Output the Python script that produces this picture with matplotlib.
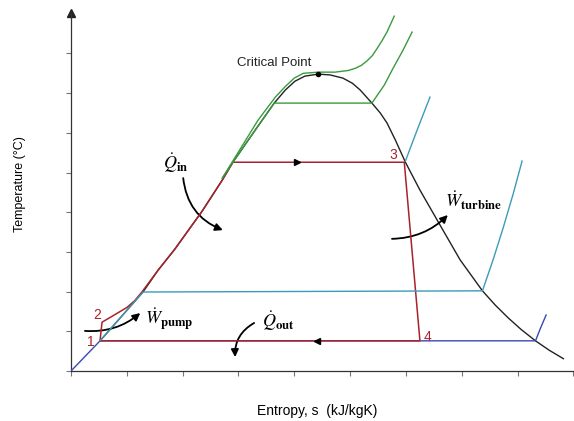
import matplotlib
matplotlib.use('Agg')
import matplotlib.pyplot as plt

plt.rcParams['font.family'] = ['Liberation Sans', 'DejaVu Sans']
plt.rcParams['mathtext.fontset'] = 'stix'

# saturation dome (entropy s, temperature T in tick units)
dome_s = [0.52, 1.29, 1.56, 1.86, 2.35, 2.71, 2.90, 3.30, 3.64, 3.84, 4.01, 4.19, 4.43,
          4.64, 4.87, 5.04, 5.18, 5.39, 5.54, 5.66, 5.81, 5.99, 6.25, 6.56, 6.97,
          7.37, 7.60, 7.83, 8.06, 8.32, 8.57, 8.82]
dome_T = [0.76, 1.99, 2.54, 3.07, 4.03, 4.81, 5.26, 6.07, 6.75, 7.08, 7.30, 7.43, 7.48,
          7.46, 7.38, 7.25, 7.08, 6.75, 6.50, 6.25, 5.82, 5.26, 4.56, 3.80, 2.80,
          2.02, 1.66, 1.34, 1.05, 0.76, 0.52, 0.31]
crit_s, crit_T = 4.43, 7.48

# Rankine cycle 1-2-3-4-1
cycle_s = [0.52, 0.556, 0.75, 1.00, 1.14, 1.27, 1.56, 1.86, 2.35, 2.71, 2.90, 5.97, 6.25, 0.52]
cycle_T = [0.76, 1.23, 1.39, 1.60, 1.77, 1.99, 2.54, 3.07, 4.03, 4.81, 5.26, 5.26, 0.76, 0.76]

# low pressure isobar (blue)
low_s = [0.0, 0.52, 8.32, 8.41, 8.51]
low_T = [0.0, 0.76, 0.76, 1.08, 1.41]

# mid pressure isobar (teal)
mid_s = [0.52, 1.29, 7.37, 7.56, 7.74, 7.92, 8.08]
mid_T = [0.76, 1.99, 2.02, 2.80, 3.60, 4.46, 5.29]

# boiler pressure superheat branch (teal)
boil_s = [5.99, 6.20, 6.43]
boil_T = [5.29, 6.07, 6.90]

# high subcritical isobar (green)
high_s = [2.71, 2.90, 3.30, 3.64, 5.39, 5.61, 5.77, 5.95, 6.11]
high_T = [4.86, 5.26, 6.07, 6.75, 6.75, 7.20, 7.63, 8.09, 8.54]

# supercritical isobar (green)
super_s = [2.71, 3.35, 3.66, 3.84, 4.00, 4.16, 4.43, 4.73, 4.96, 5.10, 5.20, 5.30,
           5.40, 5.48, 5.57, 5.66, 5.79]
super_T = [4.86, 6.32, 6.90, 7.17, 7.38, 7.50, 7.53, 7.53, 7.57, 7.63, 7.70, 7.81,
           7.95, 8.12, 8.32, 8.54, 8.94]

red = '#a8232b'
teal = '#3b9bb8'
blue = '#3848b8'
green = '#3a9a3e'

fig = plt.figure(figsize=(5.74, 4.21), dpi=100)
ax = fig.add_axes([71 / 574, 50 / 421, 503 / 574, 358 / 421])
ax.set_xlim(0, 9.01)
ax.set_ylim(0, 9.02)

ax.plot(dome_s, dome_T, color='#222222', lw=1.0, zorder=2)
ax.plot(low_s, low_T, color=blue, lw=1.0, zorder=3)
ax.plot(cycle_s, cycle_T, color=red, lw=1.1, zorder=4)
ax.plot(mid_s, mid_T, color=teal, lw=1.0, zorder=5)
ax.plot(boil_s, boil_T, color=teal, lw=1.0, zorder=5)
ax.plot(high_s, high_T, color=green, lw=1.0, zorder=6)
ax.plot(super_s, super_T, color=green, lw=1.0, zorder=6)
ax.plot(crit_s, crit_T, 'o', color='black', ms=3, zorder=7)

# flow direction arrowheads
ax.plot(4.05, 5.26, marker='>', color='black', ms=5, zorder=8)
ax.plot(4.41, 0.76, marker='<', color='black', ms=5, zorder=8)

ax.text(3.64, 7.76, 'Critical Point', fontsize=9.5, ha='center', va='center', color='#222222')
ax.text(0.36, 0.73, '1', fontsize=10, color=red, ha='center', va='center')
ax.text(0.47, 1.41, '2', fontsize=10, color=red, ha='center', va='center')
ax.text(5.77, 5.44, '3', fontsize=10, color=red, ha='center', va='center')
ax.text(6.38, 0.86, '4', fontsize=10, color=red, ha='center', va='center')

ax.text(1.65, 5.24, r'$\dot{Q}_{\mathbf{in}}$', fontsize=13, ha='left', va='center')
ax.text(6.70, 4.28, r'$\dot{W}_{\mathbf{turbine}}$', fontsize=13, ha='left', va='center')
ax.text(3.42, 1.26, r'$\dot{Q}_{\mathbf{out}}$', fontsize=13, ha='left', va='center')
ax.text(1.33, 1.31, r'$\dot{W}_{\mathbf{pump}}$', fontsize=13, ha='left', va='center')

arrow = dict(arrowstyle='-|>', color='black', lw=1.3, mutation_scale=11, shrinkA=0, shrinkB=0)
ax.annotate('', xy=(2.72, 3.55), xytext=(2.01, 4.86),
            arrowprops=dict(arrow, connectionstyle='arc3,rad=0.3'))
ax.annotate('', xy=(6.75, 3.93), xytext=(5.75, 3.33),
            arrowprops=dict(arrow, connectionstyle='arc3,rad=0.2'))
ax.annotate('', xy=(2.94, 0.35), xytext=(3.28, 1.21),
            arrowprops=dict(arrow, connectionstyle='arc3,rad=0.3'))
ax.annotate('', xy=(1.24, 1.46), xytext=(0.25, 1.01),
            arrowprops=dict(arrow, connectionstyle='arc3,rad=0.2'))

for side in ['top', 'right']:
    ax.spines[side].set_visible(False)
for side in ['left', 'bottom']:
    ax.spines[side].set_color('#333333')
    ax.spines[side].set_linewidth(0.9)
ax.set_xticks(range(10))
ax.set_yticks(range(9))
ax.set_xticklabels([])
ax.set_yticklabels([])
ax.tick_params(direction='out', length=3.5, width=0.8, color='#777777')
ax.plot(0, 1, marker='^', color='#222222', ms=6, transform=ax.transAxes, clip_on=False)

fig.text(317 / 574, 1 - 411 / 421, 'Entropy, s  (kJ/kgK)', fontsize=10, ha='center', va='center')
fig.text(20 / 574, 1 - 184 / 421, 'Temperature (°C)', fontsize=9, rotation=90, ha='center', va='center')

fig.savefig('out.png', dpi=100)
